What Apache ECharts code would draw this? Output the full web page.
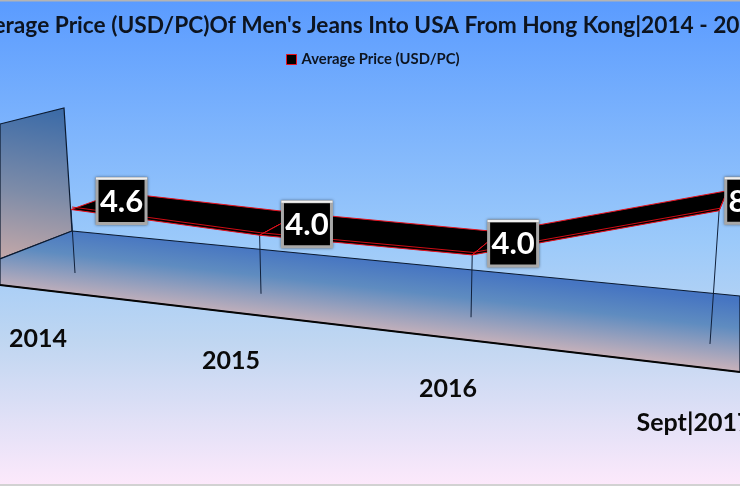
<!DOCTYPE html>
<html>
<head>
<meta charset="utf-8">
<style>html,body{margin:0;padding:0;background:#f2f2f2}#c{width:740px;height:486px}</style>
<script src="https://cdn.jsdelivr.net/npm/echarts@6/dist/echarts.min.js"></script>
</head>
<body>
<div id="c"></div>
<script>
const categories = ['2014', '2015', '2016', 'Sept|2017'];
const averagePrice = [4.6, 4.0, 4.0, 8.0];
const seriesName = 'Average Price (USD/PC)';
const chartTitle = "Average Price (USD/PC)Of Men's Jeans Into USA From Hong Kong|2014 - 2017";

const FONT = 'Lato, "Open Sans", sans-serif';
const chart = echarts.init(document.getElementById('c'), null, {renderer: 'canvas'});

// Perspective view of the chart's vertical plane. The grid below is the flat
// (category, value) plane; its pixels are carried onto the 3-D looking plane here.
const GRID = {left: 100, top: 100, width: 300, height: 200};
const Y_MAX = 10;
function project(gx, gy) {
  const i = (gx - GRID.left) / 100;                 // category position (bands are 100px)
  const v = (GRID.top + GRID.height - gy) / 20;     // value position (20px per unit)
  const w = 1 - 0.0571 * i;
  const xb = 75 + 175.4 * i / w;
  const yb = 273 + 19.6 * i / w;
  const h = v * 13.8 / w;
  const lean = (xb - 378) * 0.000206;
  return [xb + lean * h, yb - h];
}
function depth(i) {
  return [47 - 3 * i - 3.3 * i * i, -(17 + 7 * i - 2 * i * i)];
}

function renderRibbon(params, api) {
  const n = categories.length;
  const pts = [];
  for (let k = 0; k < n; k++) {
    const c = api.coord([categories[k], averagePrice[k]]);
    pts.push(project(c[0], c[1]));
  }
  const i = params.dataIndex;
  const children = [];
  const p = pts[i];
  const d = depth(i);
  if (i < n - 1) {
    const q = pts[i + 1], e = depth(i + 1);
    children.push({type: 'polygon', shape: {points: [p, [p[0] + d[0], p[1] + d[1]], [q[0] + e[0], q[1] + e[1]], q]},
      style: {fill: '#000', stroke: '#e8101c', lineWidth: 1}});
    children.push({type: 'line', shape: {x1: p[0] + 1, y1: p[1] - 2.5, x2: q[0] + 1, y2: q[1] - 2.5},
      style: {stroke: '#d00c14', lineWidth: 1}});
    children.push({type: 'line', shape: {x1: q[0], y1: q[1], x2: q[0] + e[0], y2: q[1] + e[1]},
      style: {stroke: '#e8101c', lineWidth: 1}});
  }
  return {type: 'group', children};
}
function renderDrop(params, api) {
  const c0 = api.coord([api.value(0), 0]);
  const c1 = api.coord([api.value(0), api.value(1)]);
  const a = project(c0[0], c0[1]), b = project(c1[0], c1[1]);
  return {type: 'line', shape: {x1: b[0], y1: b[1], x2: a[0], y2: a[1]}, style: {stroke: '#10203a', lineWidth: 1}};
}
function renderLabels(params, api) {
  const i = params.dataIndex;
  const c = api.coord([api.value(0), api.value(1)]);
  const p = project(c[0], c[1]);
  const d = depth(i);
  const cx = p[0] + d[0] / 2 + 27, cy = p[1] + d[1] / 2;
  const W = 49, H = 45;
  return {type: 'group', children: [
    {type: 'rect', shape: {x: cx - W / 2, y: cy - H / 2, width: W, height: H},
      style: {fill: '#000', stroke: '#a8a8a8', lineWidth: 3,
        shadowBlur: 3, shadowColor: 'rgba(0,0,0,0.45)'}},
    {type: 'line', shape: {x1: cx - W / 2 - 1, y1: cy - H / 2, x2: cx + W / 2 + 1, y2: cy - H / 2},
      style: {stroke: '#f0f0f0', lineWidth: 2}},
    {type: 'text', style: {x: cx, y: cy + 1, text: averagePrice[i].toFixed(1), fill: '#fff',
      font: 'bold 31px ' + FONT, align: 'center', verticalAlign: 'middle'}}
  ]};
}
function renderCategory(params, api) {
  const i = params.dataIndex;
  const c = api.coord([api.value(0), 0]);
  const p = project(c[0], c[1]);
  return {type: 'text', style: {x: p[0] - 37 + 7 * i, y: p[1] + 66 + i * i * 1.4,
    text: categories[i], fill: '#0a0a0a', font: 'bold 25px ' + FONT, align: 'center', verticalAlign: 'middle'}};
}

const rows = categories.map((c, k) => [c, averagePrice[k]]);

chart.setOption({
  animation: false,
  backgroundColor: new echarts.graphic.LinearGradient(0, 0, 0, 1, [
    {offset: 0, color: '#5a9bff'}, {offset: 0.5, color: '#9ccafa'}, {offset: 0.7, color: '#bfd6f1'}, {offset: 1, color: '#fde9fb'}
  ]),
  title: {
    text: chartTitle, left: -38, top: 9,
    textStyle: {fontFamily: FONT, fontWeight: 'bold', fontSize: 22.7, color: '#0d1420'}
  },
  legend: {
    data: [seriesName], left: 281, top: 47, itemWidth: 10, itemHeight: 10, itemGap: 2, icon: 'rect',
    textStyle: {fontFamily: FONT, fontWeight: 'bold', fontSize: 14.8, color: '#0d1420'},
    itemStyle: {color: '#000', borderColor: '#e8101c', borderWidth: 1}
  },
  grid: {left: GRID.left - 50, top: GRID.top, width: GRID.width + 100, height: GRID.height, show: false},
  xAxis: {type: 'category', data: categories, show: false},
  yAxis: {type: 'value', min: 0, max: Y_MAX, interval: 2, show: false},
  graphic: [
    {type: 'polygon', z: 0, shape: {points: [[0, 124], [64, 108], [72, 231], [0, 259]]},
      style: {fill: new echarts.graphic.LinearGradient(45, 110, 20, 262, [
        {offset: 0, color: '#3d6ca8'}, {offset: 0.55, color: '#7e8ca8'}, {offset: 1, color: '#c4a8a8'}], true),
        stroke: '#0b1a30', lineWidth: 1.2}},
    {type: 'polygon', z: 0, shape: {points: [[72, 231], [740, 296], [740, 372], [0, 285], [0, 259]]},
      style: {fill: new echarts.graphic.LinearGradient(370, 260, 362.5, 328, [
        {offset: 0, color: '#4675c2'}, {offset: 0.4, color: '#5f8cc0'}, {offset: 1, color: '#c4b0ba'}], true),
        stroke: '#0b1a30', lineWidth: 1.2}},
    {type: 'line', z: 1, shape: {x1: 0, y1: 285, x2: 740, y2: 372}, style: {stroke: '#050505', lineWidth: 1.8}},
    {type: 'rect', z: 1, shape: {x: 0, y: 0, width: 740, height: 1.5}, style: {fill: '#b4b4b4'}},
    {type: 'rect', z: 1, shape: {x: 0, y: 484, width: 740, height: 2}, style: {fill: '#d2d2d2'}}
  ],
  series: [
    {name: 'drop', type: 'custom', coordinateSystem: 'cartesian2d', data: rows, renderItem: renderDrop, z: 2, silent: true,
      encode: {x: 0, y: 1}},
    {name: seriesName, type: 'custom', coordinateSystem: 'cartesian2d', data: rows, renderItem: renderRibbon, z: 3,
      itemStyle: {color: '#000', borderColor: '#e8101c', borderWidth: 1}, encode: {x: 0, y: 1}},
    {name: 'labels', type: 'custom', coordinateSystem: 'cartesian2d', data: rows, renderItem: renderLabels, z: 4,
      encode: {x: 0, y: 1}},
    {name: 'categories', type: 'custom', coordinateSystem: 'cartesian2d', data: rows, renderItem: renderCategory, z: 4,
      encode: {x: 0, y: 1}}
  ]
});
</script>
</body>
</html>
